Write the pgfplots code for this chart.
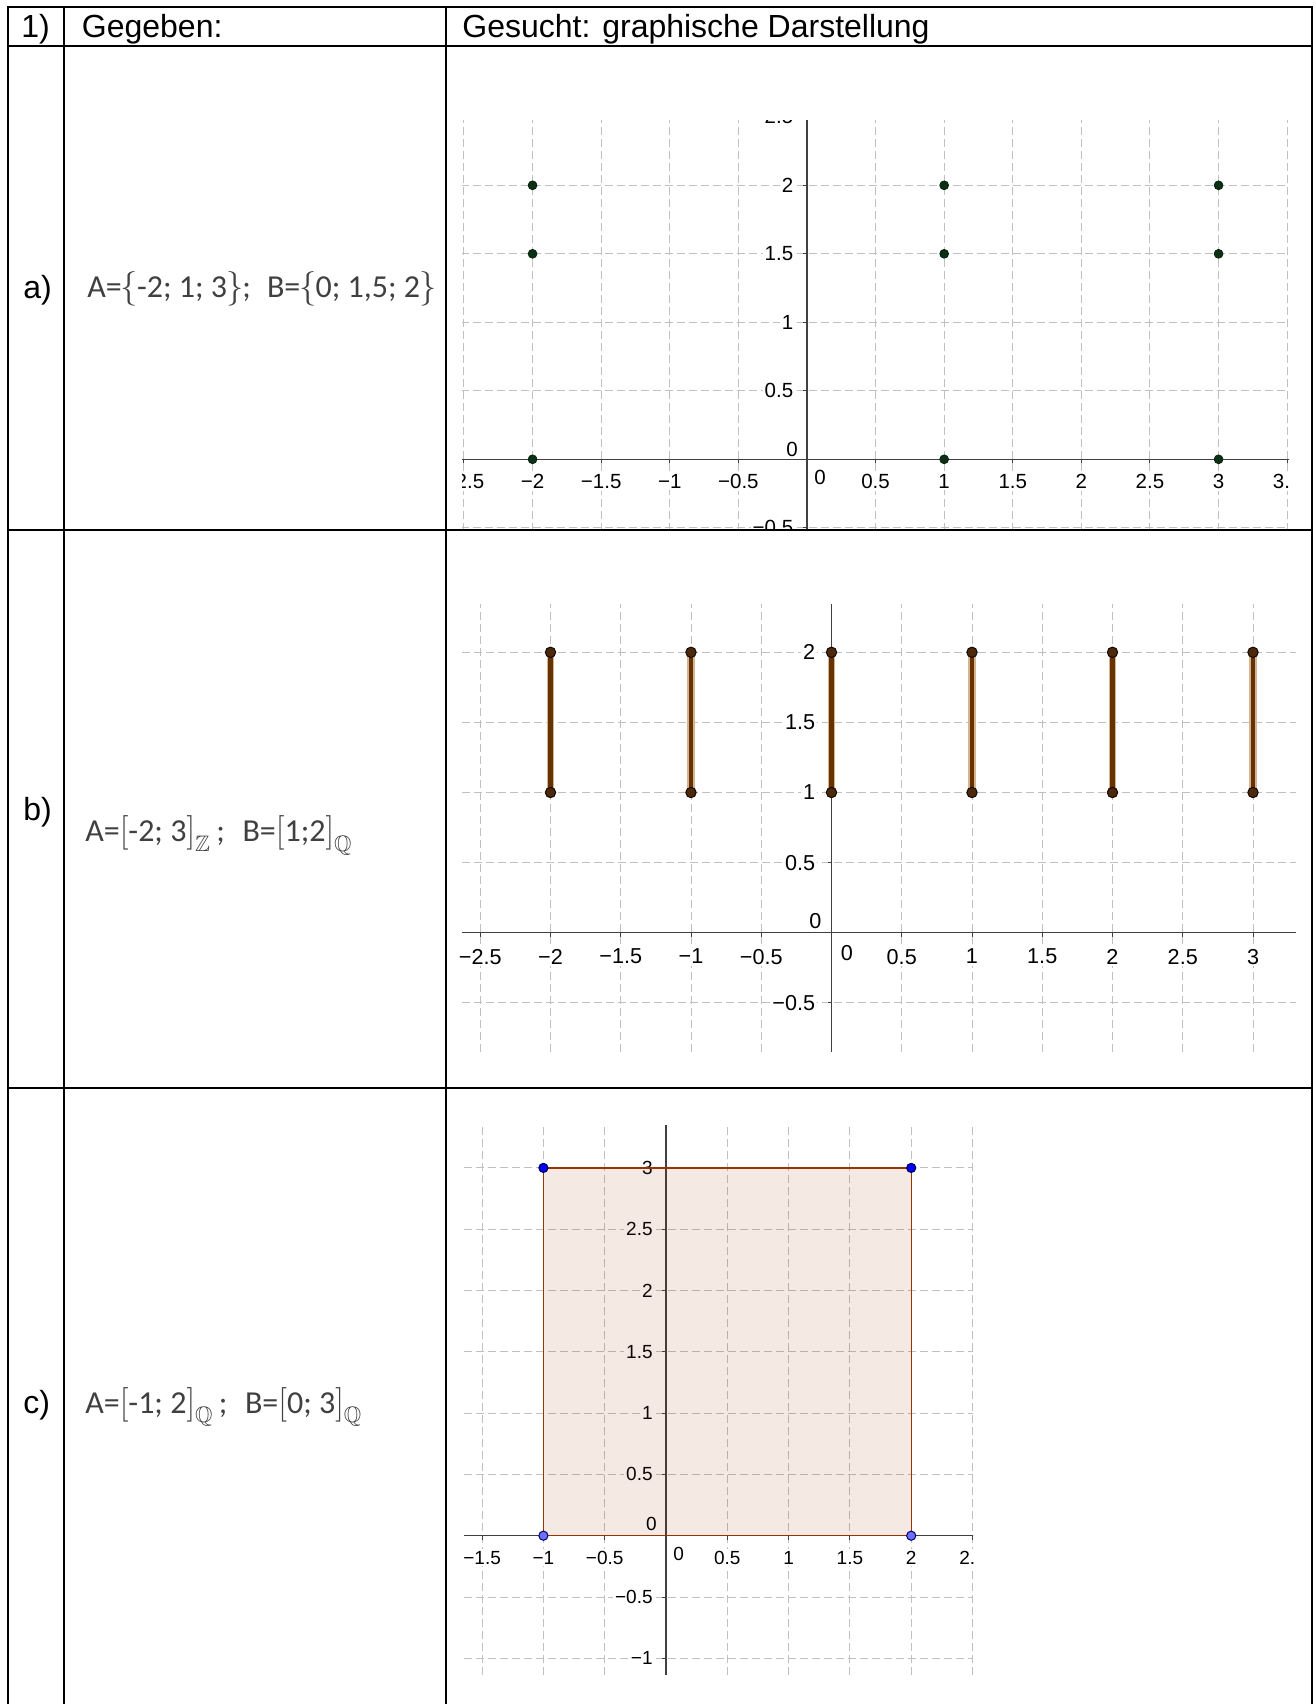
\documentclass[border=0pt]{standalone}
\usepackage{amssymb}
\usepackage{fontspec}
\setmainfont{Liberation Sans}
\newfontfamily\carlito{Carlito}
\usepackage{graphicx}
\usepackage{pgfplots}
\pgfplotsset{compat=1.18}
\definecolor{gridgray}{RGB}{192,192,192}
\definecolor{ptgreen}{RGB}{12,48,20}
\definecolor{segcore}{RGB}{102,51,0}
\definecolor{seghalo}{RGB}{215,180,145}
\definecolor{segpt}{RGB}{78,40,10}
\definecolor{polybrown}{RGB}{153,51,0}
\definecolor{ptblue}{RGB}{0,0,255}
\definecolor{ptlblue}{RGB}{110,110,255}
\definecolor{txtgray}{RGB}{64,64,64}
\newcommand\ticka{\fontsize{10.25}{12}\selectfont}
\newcommand\tickb{\fontsize{10.8}{12}\selectfont}
\newcommand\tickc{\fontsize{9.5}{11}\selectfont}
\newcommand\bigtxt{\fontsize{16}{19}\selectfont}
\pgfplotsset{
  geo/.style={
    axis lines=middle,
    axis line style={-, draw=black!75, line width=0.7pt},
    grid=major,
    major grid style={draw=gridgray, line width=0.5pt, dash pattern=on 4pt off 2pt},
    tick align=outside,
    major tick length=2pt,
    tick style={draw=black!75, line width=0.5pt},
    anchor=south west,
    xticklabel style={anchor=north, inner sep=1pt, fill=white},
    yticklabel style={anchor=east, inner sep=1pt, fill=white},
  },
}
\begin{document}
\begin{tikzpicture}
\path[use as bounding box] (0pt,0pt) rectangle (658pt,-852pt);
% ---------------- plot a ----------------
\begin{scope}
\clip (231pt,-60pt) rectangle (644.5pt,-264.5pt);
\begin{axis}[geo, at={(218.26pt,-277.6pt)}, x=68.6pt, y=68.5pt,
  xmin=-2.7, xmax=3.7, ymin=-0.7, ymax=2.7,
  xtick={-2.5,-2,-1.5,-1,-0.5,0.5,1,1.5,2,2.5,3,3.5},
  xticklabels={−2.5,−2,−1.5,−1,−0.5,0.5,1,1.5,2,2.5,3,3.5},
  ytick={-0.5,0.5,1,1.5,2,2.5},
  yticklabels={−0.5,0.5,1,1.5,2,2.5},
  tick label style={font=\ticka},
  xticklabel style={yshift=-4.25pt}, yticklabel style={xshift=-3.7pt}]
\addplot[only marks, mark=*, mark size=2.2pt, mark options={draw=ptgreen!70!black, fill=ptgreen}]
  coordinates {(-2,0) (-2,1.5) (-2,2) (1,0) (1,1.5) (1,2) (3,0) (3,1.5) (3,2)};
\node[anchor=north west, inner sep=0pt, font=\ticka, xshift=3.5pt, yshift=-5.25pt] at (axis cs:0,0) {0};
\node[anchor=south east, inner sep=0pt, font=\ticka, xshift=-4.4pt, yshift=1.3pt] at (axis cs:0,0) {0};
\end{axis}
\end{scope}
% ---------------- plot b ----------------
\begin{axis}[geo, at={(230.92pt,-525.86pt)}, x=70.25pt, y=70.1pt,
  xmin=-2.631, xmax=3.309, ymin=-0.849, ymax=2.345,
  xtick={-2.5,-2,-1.5,-1,-0.5,0.5,1,1.5,2,2.5,3},
  xticklabels={−2.5,−2,−1.5,−1,−0.5,0.5,1,1.5,2,2.5,3},
  ytick={-0.5,0.5,1,1.5,2},
  yticklabels={−0.5,0.5,1,1.5,2},
  tick label style={font=\tickb},
  xticklabel style={yshift=-5pt}, yticklabel style={xshift=-5pt}]
\addplot[draw=seghalo, line width=3.8pt, unbounded coords=jump]
  coordinates {(-2,1) (-2,2) (-2,nan) (-1,1) (-1,2) (-1,nan) (0,1) (0,2) (0,nan) (1,1) (1,2) (1,nan) (2,1) (2,2) (2,nan) (3,1) (3,2)};
\addplot[draw=segcore, line width=2.1pt, unbounded coords=jump]
  coordinates {(-2,1) (-2,2) (-2,nan) (-1,1) (-1,2) (-1,nan) (0,1) (0,2) (0,nan) (1,1) (1,2) (1,nan) (2,1) (2,2) (2,nan) (3,1) (3,2)};
\addplot[only marks, mark=*, mark size=2.6pt, mark options={draw=black!80!segpt, fill=segpt, line width=0.5pt}]
  coordinates {(-2,1) (-2,2) (-1,1) (-1,2) (0,1) (0,2) (1,1) (1,2) (2,1) (2,2) (3,1) (3,2)};
\node[anchor=north west, inner sep=0pt, font=\tickb, xshift=4.5pt, yshift=-6.15pt] at (axis cs:0,0) {0};
\node[anchor=south east, inner sep=0pt, font=\tickb, xshift=-4.8pt, yshift=1.7pt] at (axis cs:0,0) {0};
\end{axis}
% ---------------- plot c ----------------
\begin{scope}
\clip (230.5pt,-562pt) rectangle (486.5pt,-839pt);
\begin{axis}[geo, at={(231.855pt,-837.732pt)}, x=61.3pt, y=61.3pt,
  xmin=-1.65, xmax=2.6, ymin=-1.14, ymax=3.35,
  xtick={-1.5,-1,-0.5,0.5,1,1.5,2,2.5},
  xticklabels={−1.5,−1,−0.5,0.5,1,1.5,2,2.5},
  ytick={-1,-0.5,0.5,1,1.5,2,2.5,3},
  yticklabels={−1,−0.5,0.5,1,1.5,2,2.5,3},
  tick label style={font=\tickc},
  xticklabel style={yshift=-4.5pt}, yticklabel style={xshift=-3.5pt}]
\addplot[draw=polybrown, line width=0.6pt, fill=polybrown, fill opacity=0.11]
  coordinates {(-1,0) (2,0) (2,3) (-1,3) (-1,0)};
\addplot[only marks, mark=*, mark size=2.3pt, mark options={draw=black!70!blue, fill=ptblue, line width=0.5pt}]
  coordinates {(-1,3) (2,3)};
\addplot[only marks, mark=*, mark size=2.3pt, mark options={draw=black!60!blue, fill=ptlblue, line width=0.5pt}]
  coordinates {(-1,0) (2,0)};
\node[anchor=north west, inner sep=0pt, font=\tickc, xshift=3.5pt, yshift=-5.5pt] at (axis cs:0,0) {0};
\node[anchor=south east, inner sep=0pt, font=\tickc, xshift=-4.5pt, yshift=2.1pt] at (axis cs:0,0) {0};
\end{axis}
\end{scope}
% ---------------- table ----------------
\begin{scope}[line width=1pt, black]
\draw (4.15pt,-3.65pt) -- (655.85pt,-3.65pt);
\draw (4.15pt,-22.85pt) -- (655.85pt,-22.85pt);
\draw (4.15pt,-265pt) -- (655.85pt,-265pt);
\draw (4.15pt,-544pt) -- (655.85pt,-544pt);
\draw (4.15pt,-3.15pt) -- (4.15pt,-853pt);
\draw (32.2pt,-3.15pt) -- (32.2pt,-853pt);
\draw (222.85pt,-3.15pt) -- (222.85pt,-853pt);
\draw (655.85pt,-3.15pt) -- (655.85pt,-853pt);
\end{scope}
% ---------------- texts ----------------
\begin{scope}[every node/.style={anchor=base west, inner sep=0pt, font=\bigtxt}]
\node at (10.5pt,-18.5pt) {1)};
\node at (40.75pt,-18.5pt) {Gegeben:};
\node at (231pt,-18.5pt) {Gesucht: graphische Darstellung};
\node at (11.5pt,-149pt) {a)};
\node at (11.5pt,-410pt) {b)};
\node at (11.5pt,-706.6pt) {c)};
\node[text=txtgray] at (43.5pt,-148.5pt) {\carlito A=\kern-0.5pt$\bigl\{$\kern-0.5pt-2; 1; 3\kern-0.5pt$\bigr\}$\kern-0.5pt;\hspace{0.5em}B=\kern-0.5pt$\bigl\{$\kern-0.5pt0; 1,5; 2\kern-0.5pt$\bigr\}$};
\node[text=txtgray] at (42.5pt,-420.8pt) {\carlito A=$\Bigl[$-2; 3$\Bigr]_{\mathbb{Z}}$\,;\hspace{0.55em}B=$\Bigl[$1;2$\Bigr]_{\mathbb{Q}}$};
\node[text=txtgray] at (42.5pt,-706.6pt) {\carlito A=$\Bigl[$-1; 2$\Bigr]_{\mathbb{Q}}$\,;\hspace{0.55em}B=$\Bigl[$0; 3$\Bigr]_{\mathbb{Q}}$};
\end{scope}
\end{tikzpicture}
\end{document}
